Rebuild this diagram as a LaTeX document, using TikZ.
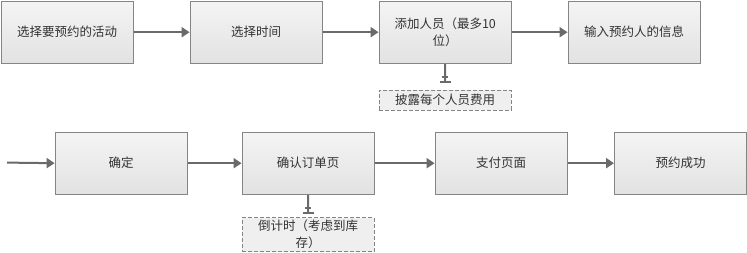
\documentclass[tikz,border=0pt]{standalone}
\usepackage{fontspec}
\setmainfont{Noto Sans CJK SC}
\usetikzlibrary{arrows.meta,calc}
\definecolor{boxborder}{HTML}{858585}
\definecolor{linecol}{HTML}{6A6A6A}
\definecolor{txtcol}{HTML}{333333}
\definecolor{boxtop}{HTML}{F4F4F4}
\definecolor{boxbot}{HTML}{E2E2E2}
\definecolor{notefill}{HTML}{EFEFEF}
\begin{document}
\begin{tikzpicture}[x=1pt,y=-1pt,
  stepbox/.style={draw=boxborder, line width=1.2pt, top color=boxtop, bottom color=boxbot,
    minimum width=132pt, minimum height=62pt, anchor=north west, inner sep=0pt,
    text=txtcol, font=\fontsize{12.5}{17}\selectfont, align=center},
  notebox/.style={draw=boxborder, dash pattern=on 4pt off 2pt, line width=0.9pt, fill=notefill,
    minimum width=132pt, anchor=north west, inner sep=0pt,
    text=txtcol, font=\fontsize{12.5}{17}\selectfont, align=center},
  flow/.style={draw=linecol, line width=2pt, -{Triangle[length=8pt,width=10pt]}},
  tick/.style={draw=linecol, line width=2pt}]
\useasboundingbox (0,0) rectangle (747,252);
% row 1
\node[stepbox] (b1) at (0.6,0.6) {选择要预约的活动};
\node[stepbox] (b2) at (189.6,0.6) {选择时间};
\node[stepbox] (b3) at (378.6,0.6) {添加人员（最多10\\位）};
\node[stepbox] (b4) at (567.6,0.6) {输入预约人的信息};
\node[notebox, minimum height=20pt] (n1) at (378.6,89.5) {披露每个人员费用};
% row 2
\coordinate (start) at (7,162.6);
\node[stepbox] (b5) at (54.6,131.6) {确定};
\node[stepbox] (b6) at (241.6,131.6) {确认订单页};
\node[stepbox] (b7) at (434.6,131.6) {支付页面};
\node[stepbox] (b8) at (614,131.6) {预约成功};
\node[notebox, minimum height=34pt] (n2) at (241.6,217.2) {倒计时（考虑到库\\存）};
% arrows
\draw[flow] (b1.east) -- (b2.west);
\draw[flow] (b2.east) -- (b3.west);
\draw[flow] (b3.east) -- (b4.west);
\draw[flow] (start) -- (b5.west);
\draw[flow] (b5.east) -- (b6.west);
\draw[flow] (b6.east) -- (b7.west);
\draw[flow] (b7.east) -- (b8.west);
% note connectors
\draw[tick, shorten >=7.4pt] (b3.south) -- (n1.north);
\draw[tick] ($(n1.north)+(-5.5,-7.4)$) -- ++(11,0);
\draw[tick] ($(n1.north)+(-3,-13)$) -- ++(6,0);
\draw[tick, shorten >=4.2pt] (b6.south) -- (n2.north);
\draw[tick] ($(n2.north)+(-5.5,-4.2)$) -- ++(11,0);
\draw[tick] ($(n2.north)+(-3,-9.5)$) -- ++(6,0);
\end{tikzpicture}
\end{document}
